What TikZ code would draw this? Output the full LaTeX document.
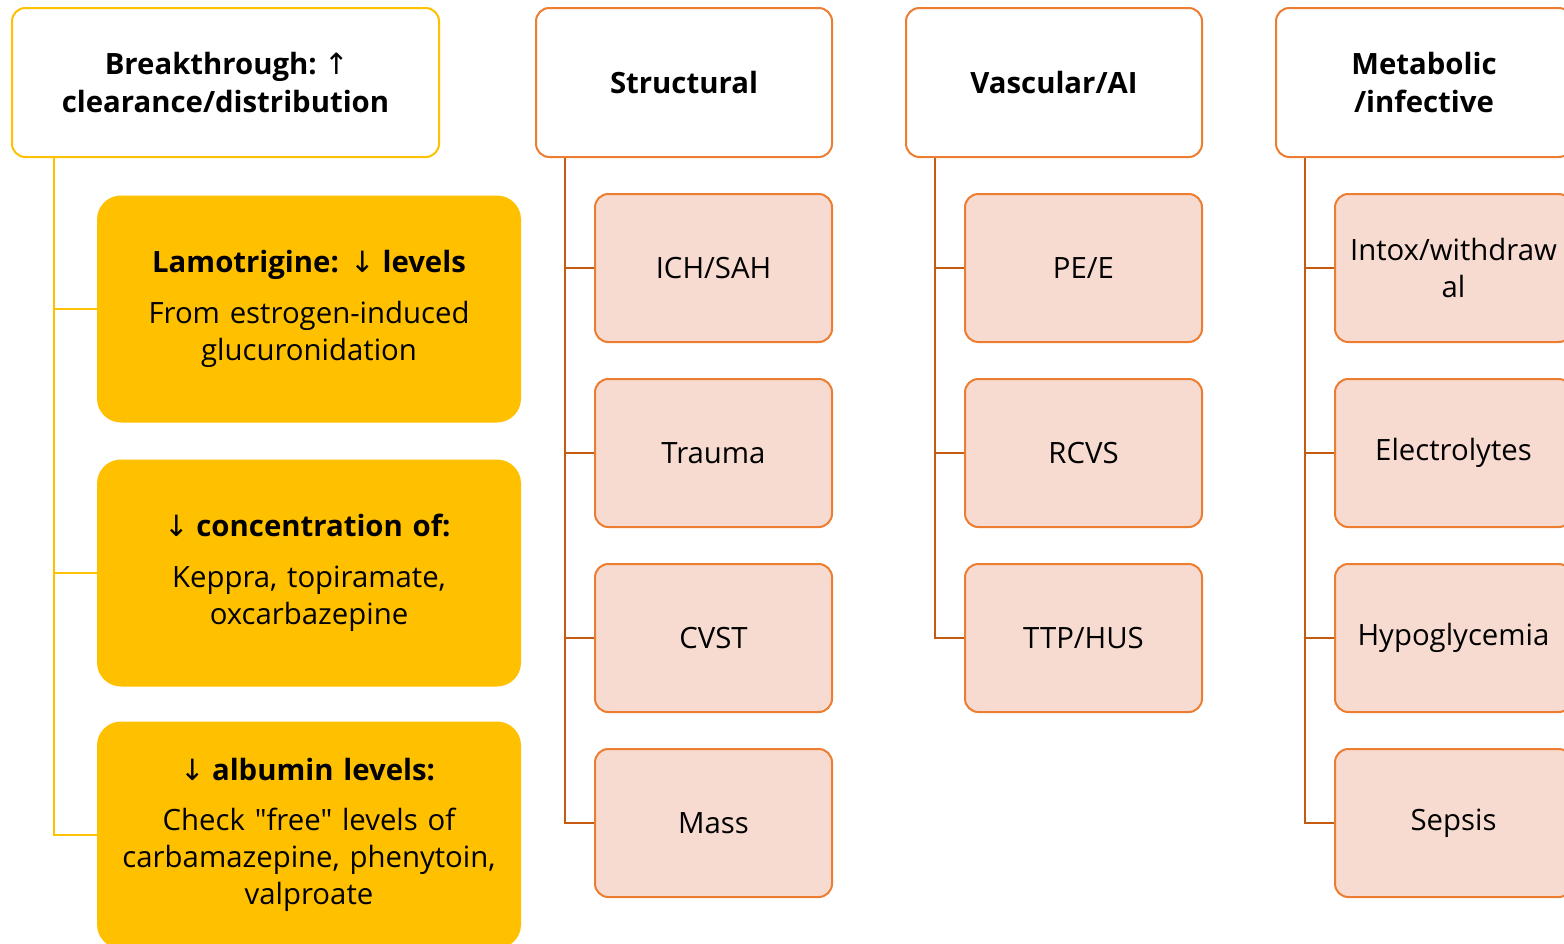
\documentclass[tikz,border=0pt]{standalone}
\usepackage{fontspec}
\newfontfamily\mainf{Open Sans}
\newfontfamily\arrowfont{DejaVu Sans}
\usepackage{tikz}
\usetikzlibrary{calc}

\definecolor{gold}{HTML}{FFC000}
\definecolor{rust}{HTML}{ED7D31}
\definecolor{rustdark}{HTML}{C55A11}
\definecolor{peach}{HTML}{F8DBD0}

\newcommand{\uparr}{{\kern-2pt\arrowfont\mdseries\char"2191\kern-2pt}}
\newcommand{\downarr}{{\kern-2pt\arrowfont\mdseries\char"2193\kern-2pt}}

\begin{document}
\begin{tikzpicture}[x=0.75pt, y=-0.75pt,
    every node/.style={font=\mainf\fontsize{22}{27.8}\selectfont, align=center, inner sep=0pt},
    head/.style={draw=#1, line width=1.5pt, fill=white, rounded corners=10pt,
      minimum width=296*0.75pt, minimum height=149*0.75pt,
      font=\mainf\fontsize{22}{27.8}\selectfont\bfseries},
    goldbox/.style={fill=gold, rounded corners=18pt,
      minimum width=424*0.75pt, minimum height=227*0.75pt, text width=300pt},
    pinkbox/.style={draw=rust, line width=1.5pt, fill=peach, rounded corners=10pt,
      minimum width=237*0.75pt, minimum height=148*0.75pt},
    goldline/.style={draw=gold, line width=1.5pt},
    rustline/.style={draw=rustdark, line width=1.8pt}]
  \useasboundingbox (0,0) rectangle (1564,943);
  \clip (0,0) rectangle (1564,943);

  % breakthrough
  \node[head=gold, minimum width=427*0.75pt] (Brk) at (225.5,82.5) {Breakthrough: \uparr\\clearance/distribution};
  \node[goldbox] (Lam) at (309,309) {\textbf{Lamotrigine: \downarr\ levels}\\[10pt]From estrogen-induced\\glucuronidation};
  \node[goldbox] (Conc) at (309,573) {\downarr\ \textbf{concentration of:}\\[10pt]Keppra, topiramate,\\oxcarbazepine};
  \node[goldbox] (Alb) at (309,835) {\downarr\ \textbf{albumin levels:}\\[10pt]Check "free" levels of\\carbamazepine, phenytoin,\\valproate};
  \foreach \c in {Lam,Conc,Alb}
    \draw[goldline] ($(Brk.south west)+(43,0)$) |- (\c.west);

  % structural
  \node[head=rust] (Str) at (684,82.5) {Structural};
  \node[pinkbox] (Ich) at (713.5,268) {ICH/SAH};
  \node[pinkbox] (Tra) at (713.5,453) {Trauma};
  \node[pinkbox] (Cvst) at (713.5,638) {CVST};
  \node[pinkbox] (Mass) at (713.5,823) {Mass};
  \foreach \c in {Ich,Tra,Cvst,Mass}
    \draw[rustline] ($(Str.south west)+(30,0)$) |- (\c.west);

  % vascular
  \node[head=rust] (Vas) at (1054,82.5) {Vascular/AI};
  \node[pinkbox] (Pe) at (1083.5,268) {PE/E};
  \node[pinkbox] (Rcvs) at (1083.5,453) {RCVS};
  \node[pinkbox] (Ttp) at (1083.5,638) {TTP/HUS};
  \foreach \c in {Pe,Rcvs,Ttp}
    \draw[rustline] ($(Vas.south west)+(30,0)$) |- (\c.west);

  % metabolic
  \node[head=rust] (Met) at (1424,82.5) {Metabolic\\/infective};
  \node[pinkbox] (Intox) at (1453.5,268) {Intox/withdraw\\al};
  \node[pinkbox] (Elec) at (1453.5,453) {Electrolytes};
  \node[pinkbox] (Hypo) at (1453.5,638) {Hypoglycemia};
  \node[pinkbox] (Sep) at (1453.5,823) {Sepsis};
  \foreach \c in {Intox,Elec,Hypo,Sep}
    \draw[rustline] ($(Met.south west)+(30,0)$) |- (\c.west);
\end{tikzpicture}
\end{document}
